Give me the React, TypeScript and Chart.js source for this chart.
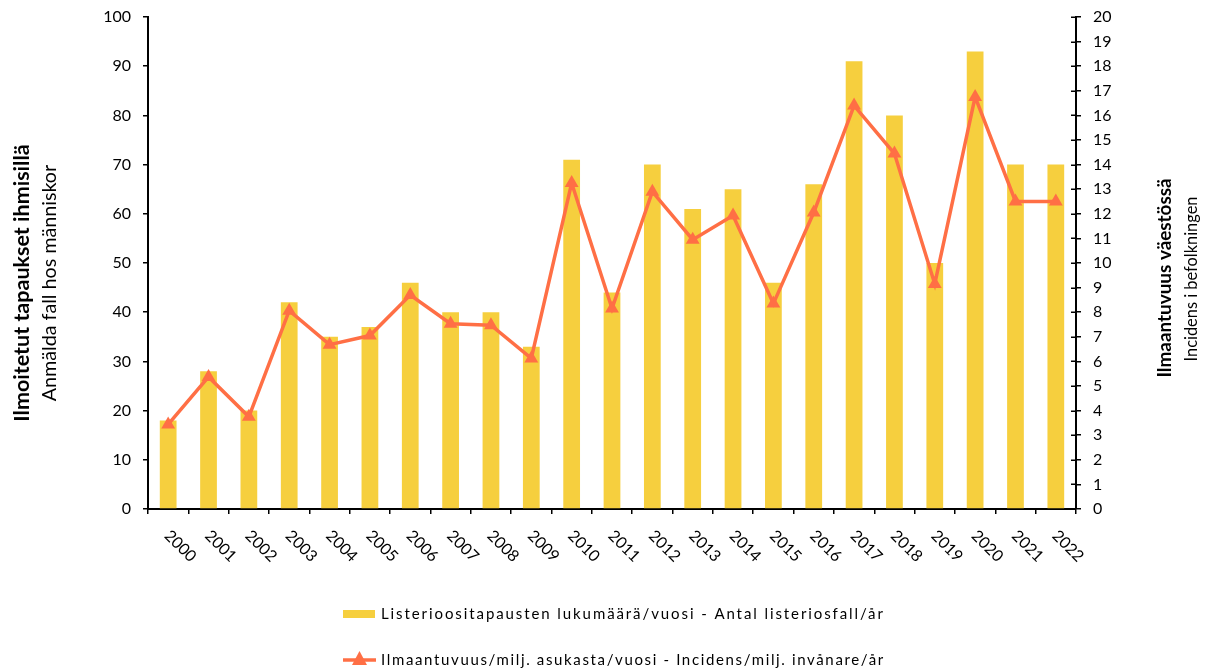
import React, { useEffect, useRef } from "react";
import { Chart, registerables } from "chart.js";

Chart.register(...registerables);

const years = ["2000","2001","2002","2003","2004","2005","2006","2007","2008","2009","2010","2011","2012","2013","2014","2015","2016","2017","2018","2019","2020","2021","2022"];
const cases = [18, 28, 20, 42, 35, 37, 46, 40, 40, 33, 71, 44, 70, 61, 65, 46, 66, 91, 80, 50, 93, 70, 70];
const incidence = [3.44, 5.37, 3.75, 8.06, 6.68, 7.05, 8.7, 7.53, 7.47, 6.12, 13.25, 8.15, 12.9, 10.95, 11.93, 8.35, 12.05, 16.4, 14.45, 9.15, 16.75, 12.5, 12.5];
const leftTitle = ["Ilmoitetut tapaukset ihmisillä", "Anmälda fall hos människor"];
const rightTitle = ["Ilmaantuvuus väestössä", "Incidens i befolkningen"];
const barLabel = "Listerioositapausten lukumäärä/vuosi - Antal listeriosfall/år";
const lineLabel = "Ilmaantuvuus/milj. asukasta/vuosi - Incidens/milj. invånare/år";

const YELLOW = "#F6CF3E";
const ORANGE = "#FF6F45";
const FONT = "Lato, 'Open Sans', sans-serif";

const W = 1210;
const H = 670;

const decor = {
  id: "decor",
  afterDraw(chart: any) {
    const ctx = chart.ctx as CanvasRenderingContext2D;
    const xs = chart.scales.x;
    const y1 = chart.scales.y1;
    const area = chart.chartArea;
    ctx.save();
    // inner half of crossing ticks on right axis
    ctx.strokeStyle = "#000";
    ctx.lineWidth = 1.5;
    y1.ticks.forEach((t: any, i: number) => {
      const py = Math.round(y1.getPixelForTick(i)) + 0.25;
      ctx.beginPath();
      ctx.moveTo(area.right - 5, py);
      ctx.lineTo(area.right, py);
      ctx.stroke();
    });
    // x labels rotated 45deg clockwise
    ctx.fillStyle = "#000";
    ctx.font = `16px ${FONT}`;
    ctx.textAlign = "left";
    ctx.textBaseline = "middle";
    years.forEach((lab, i) => {
      const px = xs.getPixelForTick(i);
      ctx.save();
      ctx.translate(px - 1, area.bottom + 24);
      ctx.rotate(Math.PI / 4);
      ctx.fillText(lab, 0, 0);
      ctx.restore();
    });
    // axis titles, sized to the reference lengths
    const drawV = (text: string, x: number, y: number, bold: boolean, target: number) => {
      ctx.save();
      ctx.translate(x, y);
      ctx.rotate(-Math.PI / 2);
      const weight = bold ? "bold " : "";
      ctx.font = `${weight}20px ${FONT}`;
      const w = ctx.measureText(text).width;
      const size = Math.max(10, Math.min(26, (20 * target) / w));
      ctx.font = `${weight}${size.toFixed(1)}px ${FONT}`;
      ctx.textAlign = "center";
      ctx.textBaseline = "middle";
      ctx.fillText(text, 0, 0);
      ctx.restore();
    };
    drawV(leftTitle[0], 22, 283, true, 277);
    drawV(leftTitle[1], 50, 283, false, 237);
    drawV(rightTitle[0], 1165, 278, true, 199);
    drawV(rightTitle[1], 1192, 279, false, 165);
    // legend
    const fitText = (text: string, x: number, y: number, target: number) => {
      ctx.font = `15px ${FONT}`;
      (ctx as any).letterSpacing = "0px";
      const w = ctx.measureText(text).width;
      const ls = (target - w) / (text.length - 1);
      (ctx as any).letterSpacing = `${ls.toFixed(2)}px`;
      ctx.textAlign = "left";
      ctx.textBaseline = "middle";
      ctx.fillText(text, x, y);
      (ctx as any).letterSpacing = "0px";
    };
    ctx.fillStyle = YELLOW;
    ctx.fillRect(343, 610, 32, 8);
    ctx.fillStyle = "#000";
    fitText(barLabel, 381, 614, 502);
    ctx.strokeStyle = ORANGE;
    ctx.lineWidth = 3.5;
    ctx.beginPath();
    ctx.moveTo(343, 660);
    ctx.lineTo(376, 660);
    ctx.stroke();
    ctx.fillStyle = ORANGE;
    ctx.beginPath();
    ctx.moveTo(359.5, 651);
    ctx.lineTo(367, 665);
    ctx.lineTo(352, 665);
    ctx.closePath();
    ctx.fill();
    ctx.fillStyle = "#000";
    fitText(lineLabel, 381, 660, 502);
    ctx.restore();
  },
};

export default function App() {
  const ref = useRef<HTMLCanvasElement | null>(null);
  useEffect(() => {
    document.body.style.margin = "0";
    const canvas = ref.current!;
    const tickFont = { family: FONT, size: 16 };
    const chart = new Chart(canvas, {
      type: "bar",
      data: {
        labels: years,
        datasets: [
          {
            type: "line",
            label: lineLabel,
            data: incidence,
            yAxisID: "y1",
            borderColor: ORANGE,
            backgroundColor: ORANGE,
            borderWidth: 3.5,
            pointStyle: "triangle",
            pointRadius: 8,
            pointBorderWidth: 0,
            pointBackgroundColor: ORANGE,
            tension: 0,
            order: 0,
          } as any,
          {
            type: "bar",
            label: barLabel,
            data: cases,
            yAxisID: "y",
            backgroundColor: YELLOW,
            barPercentage: 0.415,
            categoryPercentage: 1,
            order: 1,
          },
        ],
      },
      options: {
        responsive: false,
        animation: false,
        layout: { padding: { top: 17, left: 0, right: 0, bottom: 0 } },
        plugins: { legend: { display: false }, tooltip: { enabled: false } },
        scales: {
          x: {
            offset: true,
            grid: { display: true, drawOnChartArea: false, drawTicks: true, tickLength: 5, color: "#000", lineWidth: 1.5, offset: true },
            border: { display: true, color: "#000", width: 2 },
            ticks: { display: false },
            afterFit: (s: any) => { s.height = 161; s.paddingLeft = 0; s.paddingRight = 0; },
          },
          y: {
            position: "left",
            min: 0,
            max: 100,
            ticks: { stepSize: 10, padding: 12, color: "#000", font: tickFont },
            grid: { drawOnChartArea: false, drawTicks: true, tickLength: 5, color: "#000", lineWidth: 1.5 },
            border: { display: true, color: "#000", width: 2 },
            afterFit: (s: any) => { s.width = 148; s.paddingTop = 0; s.paddingBottom = 0; },
          },
          y1: {
            position: "right",
            min: 0,
            max: 20,
            ticks: { stepSize: 1, padding: 12, color: "#000", font: tickFont },
            grid: { drawOnChartArea: false, drawTicks: true, tickLength: 5, color: "#000", lineWidth: 1.5 },
            border: { display: true, color: "#000", width: 2 },
            afterFit: (s: any) => { s.width = 134; s.paddingTop = 0; s.paddingBottom = 0; },
          },
        },
      },
      plugins: [decor],
    });
    return () => chart.destroy();
  }, []);
  return (
    <div style={{ width: W, height: H }}>
      <canvas ref={ref} width={W} height={H} style={{ display: "block" }} />
    </div>
  );
}
